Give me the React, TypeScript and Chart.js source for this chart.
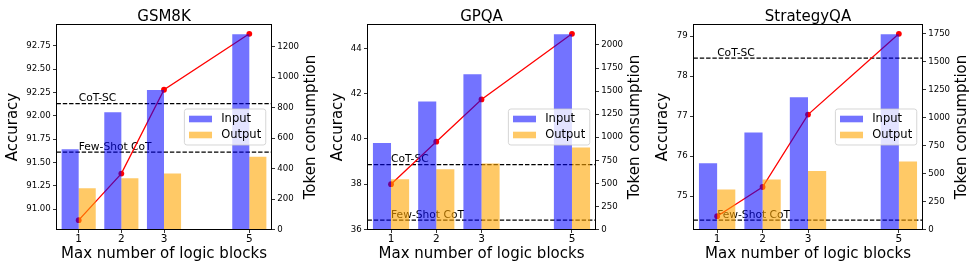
import React, { useEffect, useRef } from "react";
import { Chart, registerables } from "chart.js";

Chart.register(...registerables);

// ---------------- data ----------------
const LOGIC_BLOCKS = [1, 2, 3, 5];
const X_TICKS = [1, 2, 3, 5];

const GSM8K_ACCURACY = [90.88, 91.38, 92.28, 92.88];
const GSM8K_INPUT = [526, 769, 915, 1281];
const GSM8K_OUTPUT = [271, 337, 368, 477];
const GSM8K_COT_SC = 92.13;
const GSM8K_FEW_SHOT = 91.61;
const GSM8K_ACC_TICKS = [91.0, 91.25, 91.5, 91.75, 92.0, 92.25, 92.5, 92.75];
const GSM8K_TOKEN_TICKS = [0, 200, 400, 600, 800, 1000, 1200];

const GPQA_ACCURACY = [38.0, 39.88, 41.75, 44.65];
const GPQA_INPUT = [938, 1387, 1683, 2116];
const GPQA_OUTPUT = [545, 653, 715, 888];
const GPQA_COT_SC = 38.87;
const GPQA_FEW_SHOT = 36.41;
const GPQA_ACC_TICKS = [36, 38, 40, 42, 44];
const GPQA_TOKEN_TICKS = [0, 250, 500, 750, 1000, 1250, 1500, 1750, 2000];

const SQA_ACCURACY = [74.5, 75.23, 77.04, 79.06];
const SQA_INPUT = [592, 868, 1181, 1745];
const SQA_OUTPUT = [358, 447, 522, 608];
const SQA_COT_SC = 78.45;
const SQA_FEW_SHOT = 74.4;
const SQA_ACC_TICKS = [75, 76, 77, 78, 79];
const SQA_TOKEN_TICKS = [0, 250, 500, 750, 1000, 1250, 1500, 1750];

const LEGEND_LABELS = ["Input", "Output"];
const REF_LABEL_COT_SC = "CoT-SC";
const REF_LABEL_FEW_SHOT = "Few-Shot CoT";

// ---------------- styles / layout ----------------
const FONT = '"DejaVu Sans", "Liberation Sans", sans-serif';
const H = 272;
const PLOT_TOP = 24.5;
const PLOT_BOTTOM = 229.5;
const X_MIN = 0.48;
const X_MAX = 5.52;
const BLUE = "rgba(0,0,255,0.55)";
const ORANGE = "rgba(255,165,0,0.6)";
const TICK_FONT = 8.6;
const X_TICK_FONT = 10.5;
const LABEL_FONT = 15;
const LEGEND_FONT = 11.5;
const REF_FONT = 10.7;
const TICK_LEN = 3.5;
const TICK_PAD = 2.2;

type Panel = {
  title: string;
  acc: number[];
  input: number[];
  output: number[];
  cotSc: number;
  fewShot: number;
  accTicks: number[];
  tokenTicks: number[];
  decimals: number;
  x: number;
  w: number;
  plotLeft: number;
  plotRight: number;
};

const PANELS: Panel[] = [
  {
    title: "GSM8K", acc: GSM8K_ACCURACY, input: GSM8K_INPUT, output: GSM8K_OUTPUT,
    cotSc: GSM8K_COT_SC, fewShot: GSM8K_FEW_SHOT, accTicks: GSM8K_ACC_TICKS, tokenTicks: GSM8K_TOKEN_TICKS,
    decimals: 2, x: 0, w: 325, plotLeft: 56.5, plotRight: 271.5,
  },
  {
    title: "GPQA", acc: GPQA_ACCURACY, input: GPQA_INPUT, output: GPQA_OUTPUT,
    cotSc: GPQA_COT_SC, fewShot: GPQA_FEW_SHOT, accTicks: GPQA_ACC_TICKS, tokenTicks: GPQA_TOKEN_TICKS,
    decimals: 0, x: 325, w: 325, plotLeft: 42.5, plotRight: 270.5,
  },
  {
    title: "StrategyQA", acc: SQA_ACCURACY, input: SQA_INPUT, output: SQA_OUTPUT,
    cotSc: SQA_COT_SC, fewShot: SQA_FEW_SHOT, accTicks: SQA_ACC_TICKS, tokenTicks: SQA_TOKEN_TICKS,
    decimals: 0, x: 650, w: 327, plotLeft: 43.5, plotRight: 272.5,
  },
];

const f = (size: number) => `${size}px ${FONT}`;

function makePlugin(p: Panel) {
  return {
    id: "overlay_" + p.title,
    beforeDatasetsDraw(chart: any) {
      const { ctx, chartArea: a, scales } = chart;
      const ys = scales.y;
      const xs = scales.x;
      ctx.save();
      ctx.beginPath();
      ctx.rect(a.left, a.top, a.right - a.left, a.bottom - a.top);
      ctx.clip();
      const refs = [
        { v: p.cotSc, label: REF_LABEL_COT_SC },
        { v: p.fewShot, label: REF_LABEL_FEW_SHOT },
      ];
      ctx.strokeStyle = "#000";
      ctx.lineWidth = 1.2;
      ctx.setLineDash([4.4, 1.9]);
      for (const r of refs) {
        const py = ys.getPixelForValue(r.v);
        ctx.beginPath();
        ctx.moveTo(a.left, py);
        ctx.lineTo(a.right, py);
        ctx.stroke();
      }
      ctx.setLineDash([]);
      ctx.fillStyle = "#000";
      ctx.font = f(REF_FONT);
      ctx.textAlign = "left";
      ctx.textBaseline = "alphabetic";
      for (const r of refs) {
        ctx.fillText(r.label, xs.getPixelForValue(LOGIC_BLOCKS[0]), ys.getPixelForValue(r.v) - 2.5);
      }
      ctx.restore();
    },
    afterDatasetsDraw(chart: any) {
      const { ctx, chartArea: a } = chart;
      ctx.save();
      // legend
      const fs = LEGEND_FONT;
      ctx.font = f(fs);
      const tw = Math.max(...LEGEND_LABELS.map((l) => ctx.measureText(l).width));
      const w = 0.4 * fs * 2 + 2 * fs + 0.8 * fs + tw;
      const h = 36;
      const lx = a.right - 0.5 * fs - w;
      const cy = (a.top + a.bottom) / 2;
      const ly = cy - h / 2;
      ctx.beginPath();
      (ctx as any).roundRect(lx, ly, w, h, 2.5);
      ctx.fillStyle = "rgba(255,255,255,0.8)";
      ctx.fill();
      ctx.strokeStyle = "rgba(204,204,204,0.8)";
      ctx.lineWidth = 1;
      ctx.stroke();
      const colors = [BLUE, ORANGE];
      LEGEND_LABELS.forEach((label, i) => {
        const ry = cy + (i === 0 ? -8 : 8);
        ctx.fillStyle = colors[i];
        ctx.fillRect(lx + 0.4 * fs, ry - 3.3, 2 * fs, 6.6);
        ctx.fillStyle = "#000";
        ctx.textAlign = "left";
        ctx.textBaseline = "middle";
        ctx.fillText(label, lx + 0.4 * fs + 2 * fs + 0.8 * fs, ry + 0.5);
      });
      // frame
      ctx.strokeStyle = "#000";
      ctx.lineWidth = 1;
      ctx.strokeRect(a.left, a.top, a.right - a.left, a.bottom - a.top);
      ctx.restore();
    },
    afterDraw(chart: any) {
      const { ctx, chartArea: a, scales } = chart;
      ctx.save();
      ctx.fillStyle = "#000";
      ctx.font = f(LABEL_FONT);
      ctx.textAlign = "center";
      ctx.textBaseline = "alphabetic";
      ctx.fillText(p.title, (a.left + a.right) / 2, 20.7);
      // right axis title (reads bottom-to-top)
      ctx.font = f(TICK_FONT);
      const labels = scales.y1.ticks.map((t: any) => String(t.label));
      const maxW = Math.max(...labels.map((l: string) => ctx.measureText(l).width));
      const labelsRight = a.right + TICK_LEN + TICK_PAD + maxW;
      const bx = labelsRight + 15.5;
      ctx.translate(bx, (a.top + a.bottom) / 2);
      ctx.rotate(-Math.PI / 2);
      ctx.font = f(LABEL_FONT);
      ctx.textAlign = "center";
      ctx.textBaseline = "alphabetic";
      ctx.fillText("Token consumption", 0, 0);
      ctx.restore();
    },
  };
}

function buildConfig(p: Panel): any {
  const accAll = [...p.acc, p.cotSc, p.fewShot];
  const lo = Math.min(...accAll);
  const hi = Math.max(...accAll);
  const pad = (hi - lo) * 0.05;
  const tokMax = Math.max(...p.input, ...p.output) * 1.05;
  const grid = {
    display: true,
    drawOnChartArea: false,
    drawTicks: true,
    tickLength: TICK_LEN,
    color: "#000",
    lineWidth: 0.8,
    offset: false,
  };
  const tickFont = { family: FONT, size: TICK_FONT };
  return {
    type: "bar",
    data: {
      datasets: [
        {
          type: "bar",
          label: LEGEND_LABELS[0],
          data: LOGIC_BLOCKS.map((x, i) => ({ x, y: p.input[i] })),
          backgroundColor: BLUE,
          borderWidth: 0,
          yAxisID: "y1",
          xAxisID: "x",
          order: 0,
          categoryPercentage: 0.8,
          barPercentage: 1.0,
        },
        {
          type: "bar",
          label: LEGEND_LABELS[1],
          data: LOGIC_BLOCKS.map((x, i) => ({ x, y: p.output[i] })),
          backgroundColor: ORANGE,
          borderWidth: 0,
          yAxisID: "y1",
          xAxisID: "x",
          order: 1,
          categoryPercentage: 0.8,
          barPercentage: 1.0,
        },
        {
          type: "line",
          label: "Accuracy",
          data: LOGIC_BLOCKS.map((x, i) => ({ x, y: p.acc[i] })),
          borderColor: "#ff0000",
          backgroundColor: "#ff0000",
          pointBackgroundColor: "#ff0000",
          pointBorderWidth: 0,
          pointRadius: 2.9,
          borderWidth: 1.3,
          tension: 0,
          fill: false,
          yAxisID: "y",
          xAxisID: "x",
          order: 2,
          clip: false,
        },
      ],
    },
    options: {
      responsive: false,
      animation: false,
      devicePixelRatio: 1,
      layout: { padding: { top: PLOT_TOP, left: 0, right: 0, bottom: 0 } },
      plugins: { legend: { display: false }, tooltip: { enabled: false }, title: { display: false } },
      scales: {
        x: {
          type: "linear",
          min: X_MIN,
          max: X_MAX,
          offset: false,
          grid,
          border: { display: false },
          afterBuildTicks: (s: any) => {
            s.ticks = X_TICKS.map((v) => ({ value: v }));
          },
          afterFit: (s: any) => {
            s.height = H - PLOT_BOTTOM;
          },
          ticks: { font: { family: FONT, size: X_TICK_FONT }, color: "#000", padding: 0, maxRotation: 0, autoSkip: false, callback: (v: any) => String(v) },
          title: {
            display: true,
            text: "Max number of logic blocks",
            color: "#000",
            font: { family: FONT, size: LABEL_FONT, lineHeight: 1.2 },
            padding: { top: 0, bottom: 8.5 },
          },
        },
        y: {
          type: "linear",
          position: "left",
          min: lo - pad,
          max: hi + pad,
          grid,
          border: { display: false },
          afterBuildTicks: (s: any) => {
            s.ticks = p.accTicks.map((v) => ({ value: v }));
          },
          afterFit: (s: any) => {
            s.width = p.plotLeft;
          },
          ticks: { font: tickFont, color: "#000", padding: TICK_PAD, callback: (v: any) => Number(v).toFixed(p.decimals) },
          title: {
            display: true,
            text: "Accuracy",
            color: "#000",
            font: { family: FONT, size: LABEL_FONT, lineHeight: 1.2 },
            padding: { top: 3.9, bottom: 0 },
          },
        },
        y1: {
          type: "linear",
          position: "right",
          min: 0,
          max: tokMax,
          grid,
          border: { display: false },
          afterBuildTicks: (s: any) => {
            s.ticks = p.tokenTicks.map((v) => ({ value: v }));
          },
          afterFit: (s: any) => {
            s.width = p.w - p.plotRight;
          },
          ticks: { font: tickFont, color: "#000", padding: TICK_PAD, callback: (v: any) => String(v) },
        },
      },
    },
    plugins: [makePlugin(p)],
  };
}

function PanelChart({ panel }: { panel: Panel }) {
  const ref = useRef<HTMLCanvasElement>(null);
  useEffect(() => {
    const canvas = ref.current;
    if (!canvas) return;
    const chart = new Chart(canvas, buildConfig(panel));
    return () => chart.destroy();
  }, [panel]);
  return (
    <canvas
      ref={ref}
      width={panel.w}
      height={H}
      style={{ position: "absolute", left: panel.x, top: 0, width: panel.w, height: H, display: "block" }}
    />
  );
}

export default function App() {
  return (
    <div style={{ position: "absolute", left: 0, top: 0, width: 977, height: H, background: "#fff", overflow: "hidden" }}>
      {PANELS.map((p) => (
        <PanelChart key={p.title} panel={p} />
      ))}
    </div>
  );
}
